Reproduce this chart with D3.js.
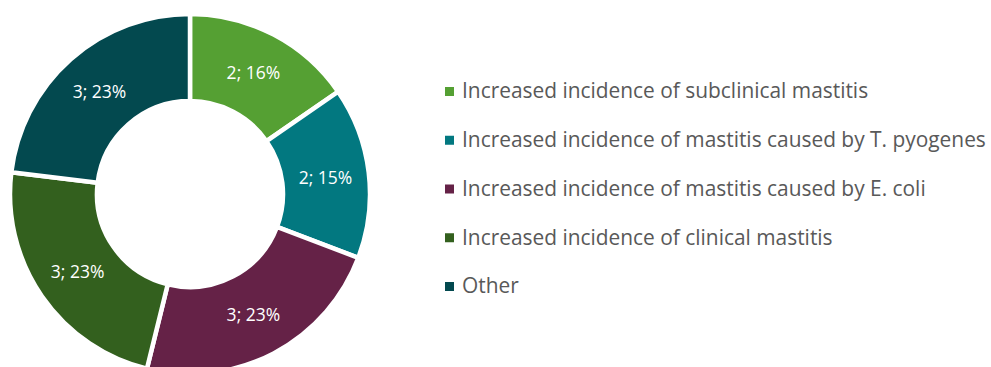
<!DOCTYPE html>
<html>
<head>
<meta charset="utf-8">
<script src="https://cdn.jsdelivr.net/npm/d3@7"></script>
<style>
  html, body { margin: 0; padding: 0; background: #fff; }
  svg { display: block; font-family: "Open Sans", Lato, sans-serif; }
</style>
</head>
<body>
<svg id="chart" width="991" height="367"></svg>
<script>
// Survey answers: count per category and the percentage shown on each slice
const categories = [
  "Increased incidence of subclinical mastitis",
  "Increased incidence of mastitis caused by T. pyogenes",
  "Increased incidence of mastitis caused by E. coli",
  "Increased incidence of clinical mastitis",
  "Other"
];
const counts = [2, 2, 3, 3, 3];
const percentLabels = ["16%", "15%", "23%", "23%", "23%"];
const colors = ["#55A033", "#027880", "#652247", "#33601E", "#03494F"];

const svg = d3.select("#chart");
const cx = 190, cy = 194, outerR = 180, innerR = 93;

const color = d3.scaleOrdinal().domain(categories).range(colors);

const pie = d3.pie().sort(null).value(d => d.count);
const data = categories.map((c, i) => ({ name: c, count: counts[i], pct: percentLabels[i] }));
const arcs = pie(data);

const arc = d3.arc().innerRadius(innerR).outerRadius(outerR);
const labelArc = d3.arc().innerRadius((innerR + outerR) / 2).outerRadius((innerR + outerR) / 2);

const g = svg.append("g").attr("transform", `translate(${cx},${cy})`);

g.selectAll("path.slice")
  .data(arcs)
  .join("path")
  .attr("class", "slice")
  .attr("d", arc)
  .attr("fill", d => color(d.data.name))
  .attr("stroke", "#fff")
  .attr("stroke-width", 4.5)
  .attr("stroke-linejoin", "miter");

g.selectAll("text.value")
  .data(arcs)
  .join("text")
  .attr("class", "value")
  .attr("transform", d => `translate(${labelArc.centroid(d)})`)
  .attr("text-anchor", "middle")
  .attr("dy", "0.36em")
  .attr("fill", "#fff")
  .attr("font-size", 17.5)
  .text(d => `${d.data.count}; ${d.data.pct}`);

// Legend
const legendY = d3.scalePoint().domain(categories).range([91.5, 286.5]);
const legend = svg.append("g");
const rows = legend.selectAll("g.row")
  .data(categories)
  .join("g")
  .attr("class", "row")
  .attr("transform", d => `translate(445,${legendY(d)})`);

rows.append("rect")
  .attr("x", 0).attr("y", -4.5)
  .attr("width", 9).attr("height", 9)
  .attr("fill", d => color(d));

rows.append("text")
  .attr("x", 17)
  .attr("y", 6.8)
  .attr("fill", "#595959")
  .attr("font-size", 20.9)
  .text(d => d);
</script>
</body>
</html>
